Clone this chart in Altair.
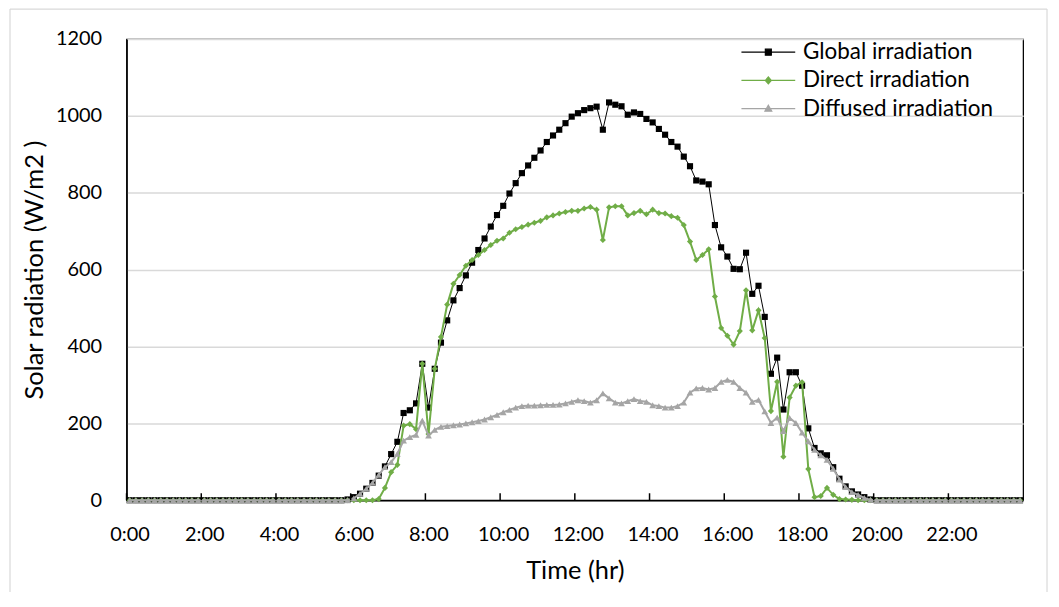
import altair as alt
import pandas as pd

# ---------------- data (10-minute readings, 0:00 ... 23:50; 12 values per row = 2 h) -------------
series_names = ["Global irradiation", "Direct irradiation", "\u00a0Diffused irradiation"]
series_colors = ["#000000", "#70AD47", "#A5A5A5"]

global_irr = [
    0, 0, 0, 0, 0, 0, 0, 0, 0, 0, 0, 0,
    0, 0, 0, 0, 0, 0, 0, 0, 0, 0, 0, 0,
    0, 0, 0, 0, 0, 0, 0, 0, 0, 0, 0, 2,
    8, 17, 30, 45, 64, 88, 120, 152, 227, 234, 252, 355,
    241, 342, 410, 468, 520, 552, 585, 618, 651, 681, 712, 742,
    766, 798, 825, 851, 871, 891, 910, 932, 949, 964, 981, 998,
    1007, 1015, 1020, 1024, 964, 1035, 1029, 1025, 1003, 1009, 1005, 992,
    983, 966, 951, 932, 920, 894, 869, 832, 829, 822, 716, 658,
    634, 602, 601, 644, 537, 558, 477, 329, 371, 236, 333, 333,
    298, 187, 136, 122, 117, 86, 56, 36, 23, 15, 8, 2,
    0, 0, 0, 0, 0, 0, 0, 0, 0, 0, 0, 0,
    0, 0, 0, 0, 0, 0, 0, 0, 0, 0, 0, 0,
]

direct_irr = [
    0, 0, 0, 0, 0, 0, 0, 0, 0, 0, 0, 0,
    0, 0, 0, 0, 0, 0, 0, 0, 0, 0, 0, 0,
    0, 0, 0, 0, 0, 0, 0, 0, 0, 0, 0, 0,
    0, 0, 0, 0, 3, 32, 73, 92, 194, 198, 185, 355,
    172, 342, 425, 509, 563, 586, 610, 625, 638, 651, 664, 675,
    681, 696, 705, 711, 717, 722, 727, 736, 741, 746, 750, 753,
    753, 759, 763, 756, 677, 762, 765, 765, 741, 747, 753, 744,
    756, 747, 746, 739, 735, 716, 673, 625, 638, 653, 530, 448,
    428, 405, 440, 546, 442, 494, 422, 232, 308, 113, 267, 298,
    307, 81, 8, 11, 32, 14, 3, 2, 1, 0, 0, 0,
    0, 0, 0, 0, 0, 0, 0, 0, 0, 0, 0, 0,
    0, 0, 0, 0, 0, 0, 0, 0, 0, 0, 0, 0,
]

diffuse_irr = [
    0, 0, 0, 0, 0, 0, 0, 0, 0, 0, 0, 0,
    0, 0, 0, 0, 0, 0, 0, 0, 0, 0, 0, 0,
    0, 0, 0, 0, 0, 0, 0, 0, 0, 0, 0, 0,
    5, 17, 30, 45, 66, 86, 99, 121, 155, 164, 170, 207,
    168, 183, 191, 193, 195, 197, 200, 203, 206, 210, 216, 222,
    229, 235, 241, 245, 246, 246, 247, 248, 248, 249, 252, 256,
    260, 258, 254, 260, 278, 265, 254, 252, 258, 263, 258, 256,
    247, 245, 241, 241, 245, 254, 280, 291, 292, 288, 292, 308,
    313, 308, 292, 280, 256, 261, 231, 201, 215, 180, 214, 201,
    176, 153, 131, 117, 105, 82, 54, 34, 21, 14, 6, 1,
    0, 0, 0, 0, 0, 0, 0, 0, 0, 0, 0, 0,
    0, 0, 0, 0, 0, 0, 0, 0, 0, 0, 0, 0,
]

x_tick_hours = [0, 2, 4, 6, 8, 10, 12, 14, 16, 18, 20, 22]
x_tick_labels = ["0:00", "2:00", "4:00", "6:00", "8:00", "10:00",
                 "12:00", "14:00", "16:00", "18:00", "20:00", "22:00"]
y_ticks = [0, 200, 400, 600, 800, 1000, 1200]

# ---------------- long table --------------------------------------------------------------
rows = []
for name, vals in zip(series_names, [global_irr, direct_irr, diffuse_irr]):
    for i, v in enumerate(vals):
        # each reading sits in the middle of its 10-minute category slot
        rows.append({"hour": (i + 0.5) / 6.0, "value": v, "series": name})
df = pd.DataFrame(rows)

FONT = "Lato"
W, H = 900, 463

label_expr = "[" + ",".join("'%s'" % s for s in x_tick_labels) + "][round(datum.value / 2)]"

x_enc = alt.X(
    "hour:Q",
    scale=alt.Scale(domain=[0, 24], nice=False, zero=False),
    axis=alt.Axis(
        values=x_tick_hours, labelExpr=label_expr, title="Time (hr)",
        ticks=False, tickSize=0, labelPadding=40, labelBaseline="alphabetic",
        labelOffset=3, labelFlush=False, labelOverlap=False, labelBound=False,
        labelFontSize=20, titleFontSize=25.5, titleY=79, titleBaseline="alphabetic",
        domainColor="black", domainWidth=1.5, grid=False,
    ),
)
y_enc = alt.Y(
    "value:Q",
    scale=alt.Scale(domain=[0, 1200], nice=False),
    axis=alt.Axis(
        values=y_ticks, format="d", title="Solar radiation (W/m2 )",
        ticks=False, tickSize=0, labelPadding=25, labelFontSize=20,
        titleFontSize=25.5, titleX=-92, titleY=H / 2, titleBaseline="middle",
        titleAlign="center", titleAngle=270,
        domainColor="black", domainWidth=1.5,
        grid=True, gridColor="#D9D9D9", gridWidth=1.5,
    ),
)

base = alt.Chart(df).encode(x=x_enc, y=y_enc)

line_widths = [1.0, 2.0, 2.0]
point_shapes = ["square", "diamond", "triangle-up"]
point_sizes = [38, 38, 46]

layers = []
for name, col, lw, shp, sz in zip(series_names, series_colors, line_widths, point_shapes, point_sizes):
    flt = alt.FieldEqualPredicate(field="series", equal=name)
    layers.append(base.transform_filter(flt).mark_line(color=col, strokeWidth=lw))
    layers.append(base.transform_filter(flt).mark_point(
        shape=shp, filled=True, size=sz, color=col, opacity=1, strokeWidth=0))

# legend-only layer (invisible marks, legend with line+marker symbols).
# symbol unit = 3 px; the line runs +-9 units (54 px), the marker +-1 unit.
legend_paths = [
    "M-9,0H9M-1,-1H1V1H-1Z",
    "M-9,0H9M0,-1.15L1,0L0,1.15L-1,0Z",
    "M-9,0H9M0,-1.1L1.15,0.9H-1.15Z",
]
leg = alt.Legend(
    orient="none", legendX=633, legendY=2, title=None, direction="vertical",
    labelFont=FONT, labelFontSize=22.5, labelColor="black", labelLimit=500,
    symbolSize=36, symbolStrokeWidth=1.2, symbolOpacity=1,
    labelOffset=23.5, rowPadding=5.3, padding=0,
)
legend_layer = base.mark_point(opacity=0, filled=True).encode(
    fill=alt.Fill("series:N", scale=alt.Scale(domain=series_names, range=series_colors), legend=leg),
    stroke=alt.Stroke("series:N", scale=alt.Scale(domain=series_names, range=series_colors), legend=leg),
    shape=alt.Shape("series:N", scale=alt.Scale(domain=series_names, range=legend_paths), legend=leg),
)

# inward tick marks on the time axis
ticks = alt.Chart(pd.DataFrame({"hour": x_tick_hours})).mark_rule(
    color="black", strokeWidth=1.5).encode(x=x_enc, y=alt.value(H), y2=alt.value(H - 7))

# light chart-area border
one = pd.DataFrame({"k": [0]})
border_style = dict(color="#D9D9D9", strokeWidth=1.2)
border = [
    alt.Chart(one).mark_rule(**border_style).encode(x=alt.value(-117), y=alt.value(-30), y2=alt.value(555)),
    alt.Chart(one).mark_rule(**border_style).encode(x=alt.value(-117), x2=alt.value(924), y=alt.value(-30)),
    alt.Chart(one).mark_rule(**border_style).encode(x=alt.value(924), y=alt.value(-30), y2=alt.value(555)),
]

chart = alt.layer(*border, *layers, legend_layer, ticks).properties(
    width=W, height=H,
    autosize=alt.AutoSizeParams(type="none"),
    padding={"left": 119, "top": 30, "right": 28, "bottom": 92},
).configure(font=FONT).configure_view(
    stroke="black", strokeWidth=1.25
).configure_axis(
    labelFont=FONT, titleFont=FONT, labelColor="black", titleColor="black",
    titleFontWeight="normal",
)

chart.save("out.html", embed_options={"renderer": "svg", "actions": False})
